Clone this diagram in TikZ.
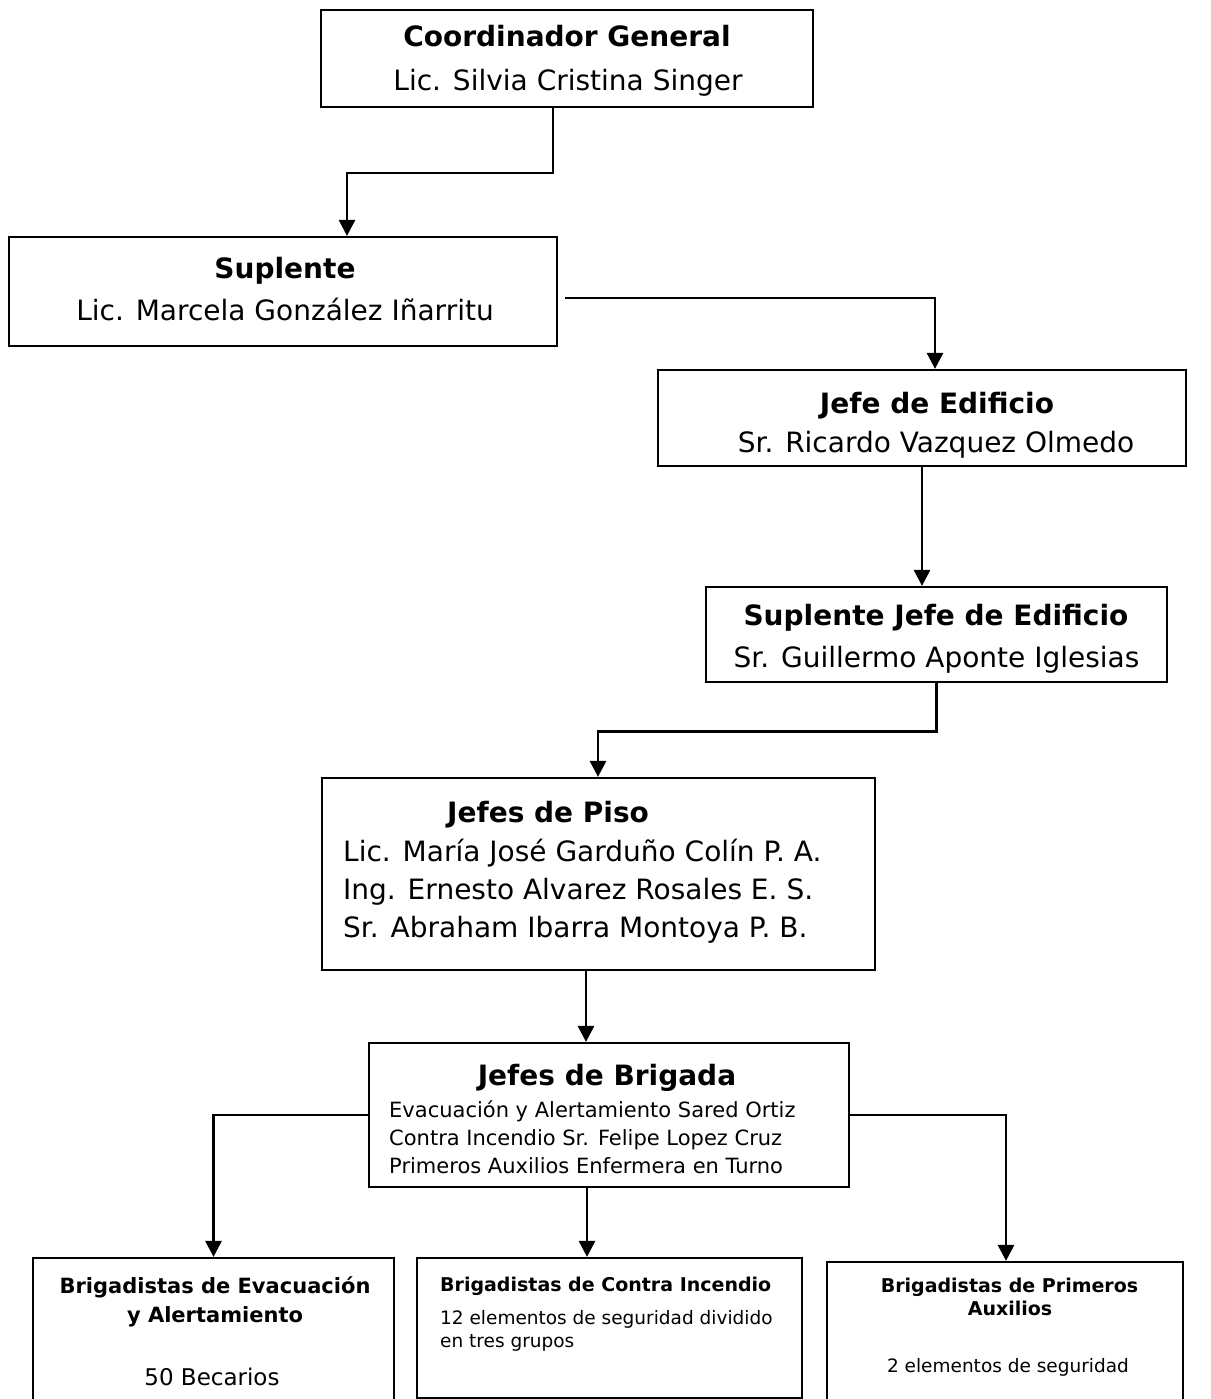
\documentclass[tikz,border=0pt]{standalone}
\usepackage{fontspec}
\setmainfont{DejaVu Sans}
\usetikzlibrary{arrows.meta}
\newcommand\myTtl{\fontsize{28}{34}\selectfont\bfseries}
\newcommand\mySub{\fontsize{28}{34}\selectfont}
\newcommand\myBrl{\fontsize{21}{28}\selectfont}
\newcommand\mySml{\fontsize{18.5}{26}\selectfont}
\newcommand\mySmlB{\fontsize{19}{24}\selectfont\bfseries}
\newcommand\myMidB{\fontsize{21}{29}\selectfont\bfseries}
\newcommand\myMid{\fontsize{23}{29}\selectfont}
\begin{document}
\begin{tikzpicture}[x=1pt,y=-1pt,
  box/.style={draw, line width=2.2pt, rectangle, inner sep=0pt},
  arr/.style={line width=2.8pt, -{Triangle[width=16pt,length=16pt]}},
  lbl/.style={inner sep=0pt, anchor=base},
  lbll/.style={inner sep=0pt, anchor=base west}]
\useasboundingbox (0,0) rectangle (1210,1399);
\clip (0,0) rectangle (1210,1399);

% boxes
\node[box, minimum width=492pt, minimum height=97pt] (coord) at (567,58.5) {};
\node[box, minimum width=548pt, minimum height=109pt] (supl) at (283,291.5) {};
\node[box, minimum width=528pt, minimum height=96pt] (jefe) at (922,418) {};
\node[box, minimum width=461pt, minimum height=95pt] (sjefe) at (936.5,634.5) {};
\node[box, minimum width=553pt, minimum height=192pt] (piso) at (598.5,874) {};
\node[box, minimum width=480pt, minimum height=144pt] (brig) at (609,1115) {};
\node[box, minimum width=361pt, minimum height=172pt] (beva) at (213.5,1344) {};
\node[box, minimum width=385pt, minimum height=140pt] (bcon) at (609.5,1328) {};
\node[box, minimum width=356pt, minimum height=168pt] (bpri) at (1005,1346) {};

% texts
\node[lbl] (coordT) at (567,47) {\myTtl Coordinador General};
\node[lbl] (coordS) at (568,91) {\mySub Lic. Silvia Cristina Singer};
\node[lbl] (suplT) at (285,278) {\myTtl Suplente};
\node[lbl] (suplS) at (285,320) {\mySub Lic. Marcela González Iñarritu};
\node[lbl] (jefeT) at (937,413) {\myTtl Jefe de Edificio};
\node[lbl] (jefeS) at (936,452) {\mySub Sr. Ricardo Vazquez Olmedo};
\node[lbl] (sjefeT) at (936,625) {\myTtl Suplente Jefe de Edificio};
\node[lbl] (sjefeS) at (936.5,667) {\mySub Sr. Guillermo Aponte Iglesias};
\node[lbll] (pisoT) at (447,822) {\myTtl Jefes de Piso};
\node[lbll] (piso1) at (343,861) {\mySub Lic. María José Garduño Colín P. A.};
\node[lbll] (piso2) at (343,899) {\mySub Ing. Ernesto Alvarez Rosales E. S.};
\node[lbll] (piso3) at (343,937) {\mySub Sr. Abraham Ibarra Montoya P. B.};
\node[lbl] (brigT) at (607,1085) {\myTtl Jefes de Brigada};
\node[lbll] (brig1) at (389,1117) {\myBrl Evacuación y Alertamiento Sared Ortiz};
\node[lbll] (brig2) at (389,1145) {\myBrl Contra Incendio Sr. Felipe Lopez Cruz};
\node[lbll] (brig3) at (389,1173) {\myBrl Primeros Auxilios Enfermera en Turno};
\node[lbl] (beva1) at (215,1293) {\myMidB Brigadistas de Evacuación};
\node[lbl] (beva2) at (215,1322) {\myMidB y Alertamiento};
\node[lbl] (beva3) at (212,1385) {\myMid 50 Becarios};
\node[lbll] (bcon1) at (440,1291) {\mySmlB Brigadistas de Contra Incendio};
\node[lbll] (bcon2) at (440,1324) {\mySml 12 elementos de seguridad dividido};
\node[lbll] (bcon3) at (440,1347) {\mySml en tres grupos};
\node[lbl] (bpri1) at (1009.5,1292) {\mySmlB Brigadistas de Primeros};
\node[lbl] (bpri2) at (1010,1315) {\mySmlB Auxilios};
\node[lbl] (bpri3) at (1008,1372) {\mySml 2 elementos de seguridad};

% connectors
\draw[arr] ([xshift=-14pt]coord.south) -- ++(0,65) -| ([xshift=64pt]supl.north);
\draw[arr] ([xshift=7pt,yshift=-6.5pt]supl.east) -| ([xshift=13pt]jefe.north);
\draw[arr] (jefe.south) -- (jefe.south |- sjefe.north);
\draw[arr] (sjefe.south) -- ++(0,48) -| ([xshift=-0.5pt]piso.north);
\draw[arr] ([xshift=-12.5pt]piso.south) -- ([xshift=-12.5pt]piso.south |- brig.north);
\draw[arr] (brig.west) -| (beva.north);
\draw[arr] ([xshift=-22pt]brig.south) -- ([xshift=-22pt]brig.south |- bcon.north);
\draw[arr] (brig.east) -| ([xshift=1pt]bpri.north);
\end{tikzpicture}
\end{document}
